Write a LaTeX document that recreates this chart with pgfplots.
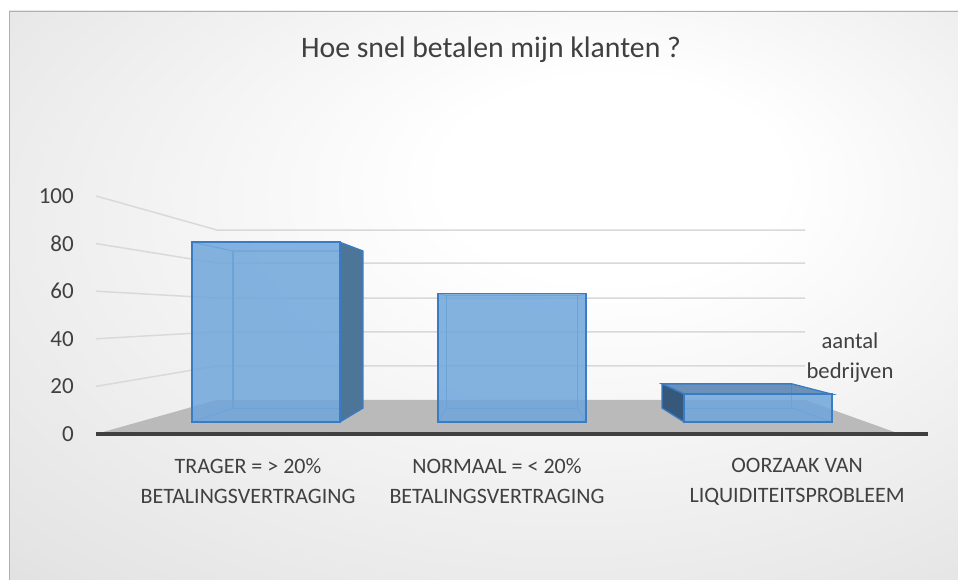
\documentclass[border=0pt]{standalone}
\usepackage{pgfplots}
\pgfplotsset{compat=1.18}
\usepackage{fontspec}
\setmainfont{Carlito}
\definecolor{txt}{HTML}{404040}
\definecolor{axisc}{HTML}{404040}
\definecolor{gridc}{HTML}{D9D9D9}
\definecolor{floorc}{HTML}{BABABA}
\definecolor{frontc}{HTML}{6FA6DB}
\definecolor{edgec}{HTML}{3A7CC4}
\definecolor{innerc}{HTML}{5B9BD5}
\definecolor{side1}{HTML}{4D7598}
\definecolor{side3}{HTML}{36587A}
\definecolor{top3}{HTML}{5A87B3}
\definecolor{bgedge}{RGB}{196,196,196}
\pgfdeclareradialshading{chartbg}{\pgfpoint{8bp}{12bp}}{color(0bp)=(white); color(9bp)=(white); color(38bp)=(bgedge!45!white); color(62bp)=(bgedge)}
\begin{document}
\begin{tikzpicture}[x=0.75pt,y=0.75pt]
\useasboundingbox (0,0) rectangle (958,580);
\shade[shading=chartbg] (9,0) rectangle (958,569);
\draw[bgedge!90!black, line width=0.4pt] (9,0) -- (9,569) -- (958,569);
\node[anchor=base, font=\fontsize{22.3}{26}\selectfont, text=txt, inner sep=0pt] at (491,522) {Hoe snel betalen mijn klanten ?};

% frame axis: front plane of the 3-D chart (labels, walls, floor)
\begin{axis}[
  at={(72pt,109.5pt)}, anchor=south west,
  scale only axis, width=624pt, height=178.5pt,
  xmin=-0.691, xmax=2.691, ymin=0, ymax=100,
  axis x line*=bottom, axis y line*=left,
  x axis line style={-, line width=2.3pt, draw=axisc},
  y axis line style={draw=none},
  major tick length=0pt,
  ytick={0,20,40,60,80,100},
  /pgf/number format/assume math mode=true,
  yticklabel style={font=\fontsize{17.25}{20}\selectfont, text=txt, inner sep=0pt, anchor=east, xshift=-16.5pt},
  xtick={-0.073,0.939,2.159},
  xticklabels={{TRAGER = > 20\%\\BETALINGSVERTRAGING},{NORMAAL = < 20\%\\BETALINGSVERTRAGING},{OORZAAK VAN\\LIQUIDITEITSPROBLEEM}},
  xticklabel style={font=\fontsize{16.5}{22.5}\selectfont, text=txt, align=center, inner sep=0pt, anchor=north, yshift=-18pt},
  axis on top, clip=false,
  every axis plot/.append style={mark=none},
]
\addplot[fill=floorc, draw=none] coordinates {(-0.691,0) (-0.199,14.3) (2.191,14.3) (2.577,0)} --cycle;
\addplot[gridc, line width=1.1pt] coordinates {(-0.691,20) (-0.199,28.6) (2.191,28.6)};
\addplot[gridc, line width=1.1pt] coordinates {(-0.691,40) (-0.199,42.9) (2.191,42.9)};
\addplot[gridc, line width=1.1pt] coordinates {(-0.691,60) (-0.199,57.1) (2.191,57.1)};
\addplot[gridc, line width=1.1pt] coordinates {(-0.691,80) (-0.199,71.8) (2.191,71.8)};
\addplot[gridc, line width=1.1pt] coordinates {(-0.691,100) (-0.199,85.7) (2.191,85.7)};
\end{axis}

% bar axis: plane of the bars' front faces
\begin{axis}[
  at={(72pt,118.5pt)}, anchor=south west,
  scale only axis, width=624pt, height=160.5pt,
  xmin=-0.691, xmax=2.691, ymin=0, ymax=100,
  hide axis, clip=false,
  every axis plot/.append style={mark=none},
]
% bar 1: inner back edges and right side
\addplot[innerc, line width=0.8pt] coordinates {(-0.3,84) (-0.134,79.9) (0.394,79.9)};
\addplot[innerc, line width=0.8pt] coordinates {(-0.134,79.9) (-0.134,6.5) (0.394,6.5)};
\addplot[innerc, line width=0.8pt] coordinates {(-0.3,0) (-0.134,6.5)};
\addplot[fill=side1, draw=edgec, line width=1pt] coordinates {(0.3,84) (0.394,79.9) (0.394,6.5) (0.3,0)} --cycle;
% bar 2: inner back edges
\addplot[innerc, line width=0.8pt] coordinates {(0.732,58.9) (1.268,58.9) (1.268,6.5) (0.732,6.5)} --cycle;
\addplot[innerc, line width=0.8pt] coordinates {(0.7,60) (0.732,58.9)};
\addplot[innerc, line width=0.8pt] coordinates {(1.3,60) (1.268,58.9)};
\addplot[innerc, line width=0.8pt] coordinates {(0.7,0) (0.732,6.5)};
\addplot[innerc, line width=0.8pt] coordinates {(1.3,0) (1.268,6.5)};
% bar 3: inner edges, top and left side
\addplot[innerc, line width=0.8pt] coordinates {(1.61,6.5) (2.138,6.5) (2.138,17.8)};
\addplot[innerc, line width=0.8pt] coordinates {(2.138,6.5) (2.3,0)};
\addplot[fill=top3, fill opacity=0.9, draw=edgec, line width=1pt] coordinates {(1.61,17.8) (2.138,17.8) (2.3,13) (1.7,13)} --cycle;
\addplot[fill=side3, draw=edgec, line width=1pt] coordinates {(1.61,17.8) (1.7,13) (1.7,0) (1.61,6.5)} --cycle;
% front faces: aantal bedrijven
\addplot[ybar, bar width=0.6, fill=frontc, fill opacity=0.85, draw=edgec, line width=1.1pt] coordinates {(0,84) (1,60) (2,13)};
\end{axis}

\node[align=center, font=\fontsize{17}{22.5}\selectfont, text=txt] at (850,222) {aantal\\bedrijven};
\end{tikzpicture}
\end{document}
